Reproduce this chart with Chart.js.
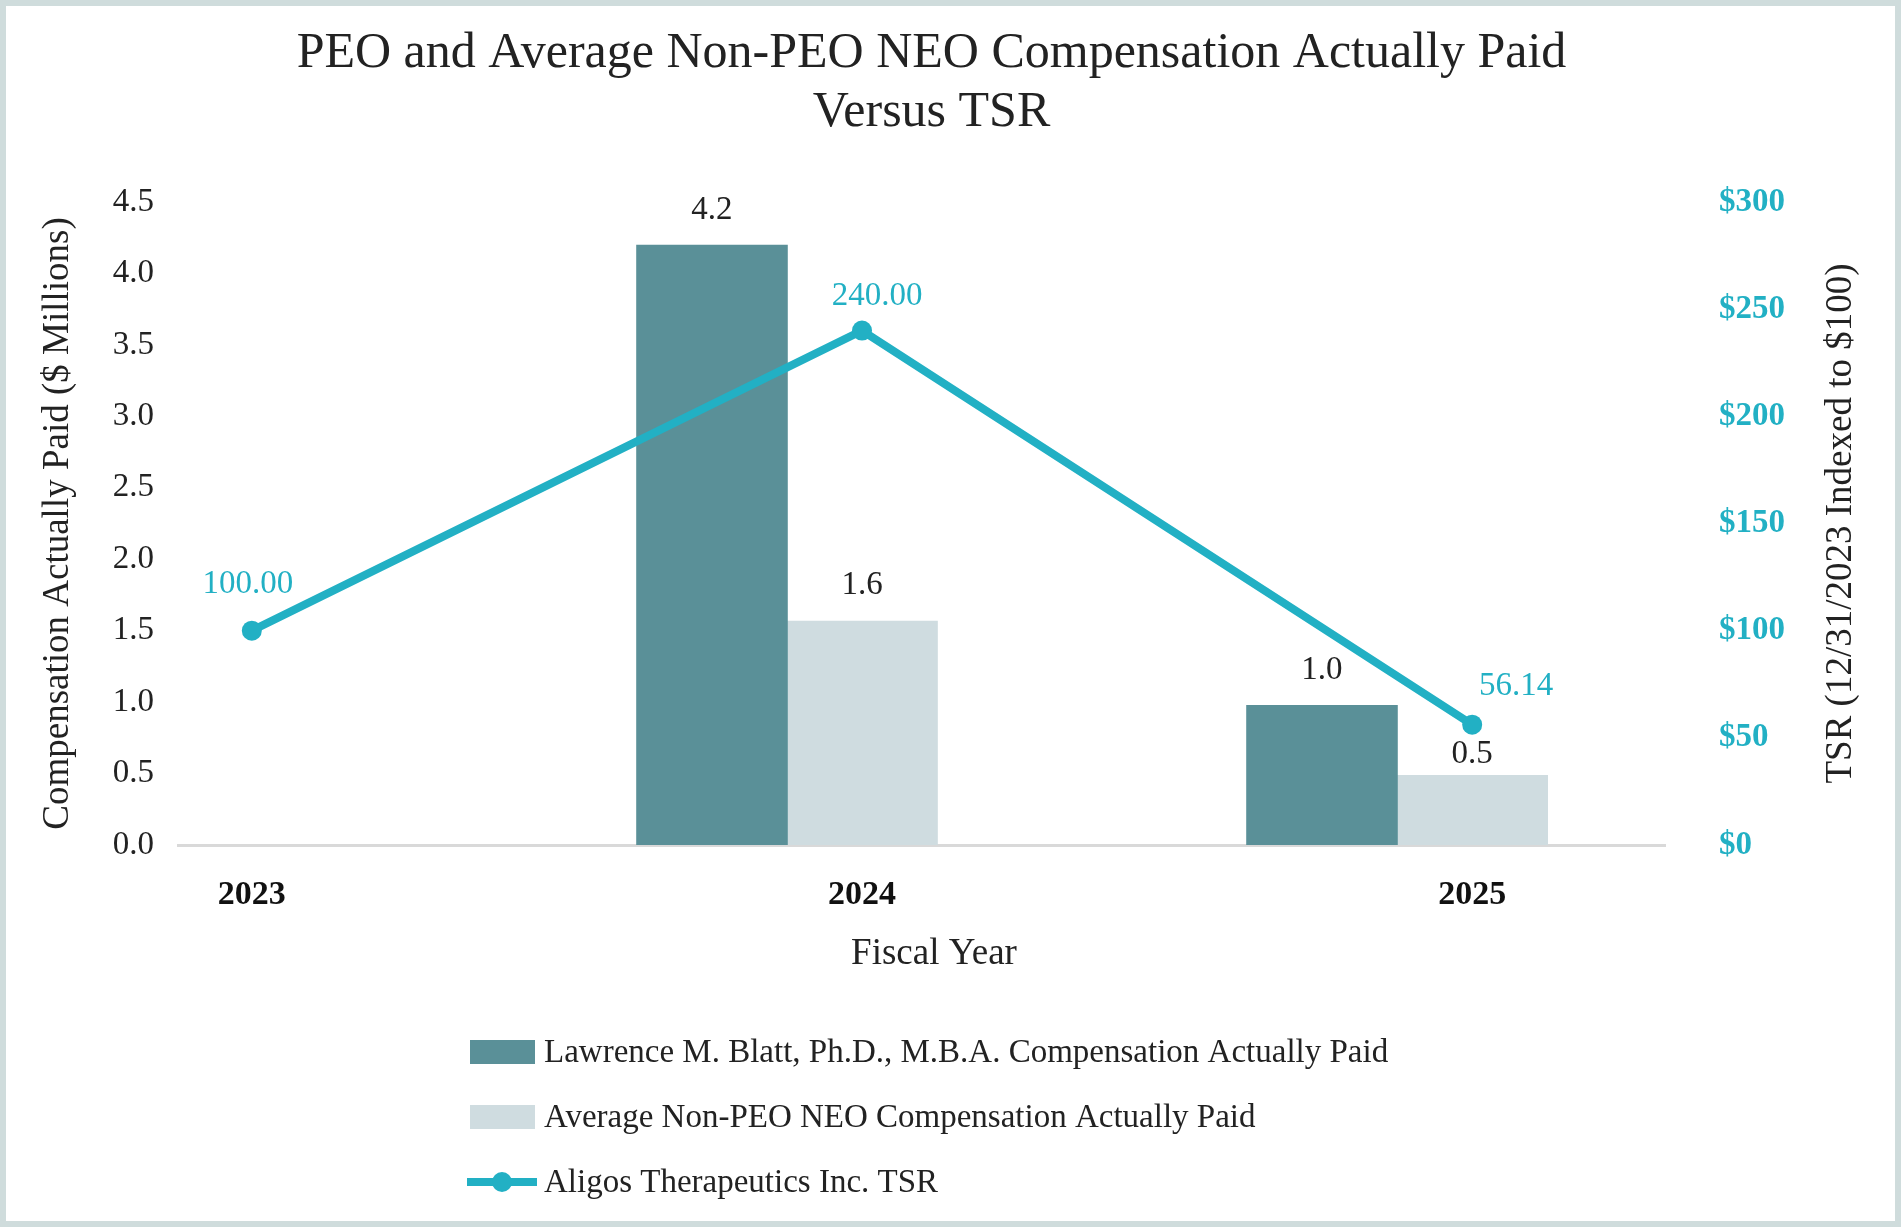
<!DOCTYPE html>
<html>
<head>
<meta charset="utf-8">
<script src="https://cdn.jsdelivr.net/npm/chart.js@4.4.1/dist/chart.umd.min.js"></script>
<style>
    html, body { margin: 0; padding: 0; background: #fff; }
    #wrap { position: relative; width: 1901px; height: 1227px; }
    #frame { position: absolute; inset: 0; border: 6px solid #cfdcdc; box-sizing: border-box; pointer-events: none; }
    canvas { position: absolute; left: 0; top: 0; }
</style>
</head>
<body>
<div id="wrap"><canvas id="chart" width="1901" height="1227"></canvas><div id="frame"></div></div>
<script>
const years = [2023, 2024, 2025];
const peoCap = [null, 4.2, 0.98];   // $ millions
const neoCap = [null, 1.57, 0.49];  // $ millions
const tsr = [100, 240, 56.14];
const seriesNames = [
    'Lawrence M. Blatt, Ph.D., M.B.A. Compensation Actually Paid',
    'Average Non-PEO NEO Compensation Actually Paid',
    'Aligos Therapeutics Inc. TSR'
];

const SERIF = "'Liberation Serif', 'Times New Roman', serif";
const TEAL = '#22b0c4';
const INK = '#222222';

// value labels above bars and points
const valueLabels = {
    id: 'valueLabels',
    afterDatasetsDraw(chart) {
        const ctx = chart.ctx;
        ctx.save();
        ctx.textAlign = 'center';
        ctx.textBaseline = 'middle';
        ctx.font = '33px ' + SERIF;
        chart.data.datasets.forEach((ds, di) => {
            const meta = chart.getDatasetMeta(di);
            const last = ds.data.length - 1;
            meta.data.forEach((el, i) => {
                const v = ds.data[i].y;
                if (v == null) return;
                if (ds.type === 'line') {
                    ctx.fillStyle = TEAL;
                    const dx = i === last ? 44 : (i === 0 ? -4 : 15);
                    const dy = i === last ? -38 : (i === 0 ? -46 : -34);
                    ctx.fillText(v.toFixed(2), el.x + dx, el.y + dy);
                } else {
                    ctx.fillStyle = INK;
                    // the small 2025 NEO label sits tighter to its bar
                    const dy = (di === 1 && i === last) ? -21 : -35;
                    ctx.fillText(v.toFixed(1), el.x, el.y + dy);
                }
            });
        });
        ctx.restore();
    }
};

// right axis title (reads bottom to top), x axis title and stacked legend
const extras = {
    id: 'extras',
    afterDraw(chart) {
        const ctx = chart.ctx;
        const area = chart.chartArea;
        ctx.save();
        ctx.font = '37px ' + SERIF;
        ctx.fillStyle = INK;
        ctx.textAlign = 'center';
        ctx.textBaseline = 'middle';
        ctx.fillText('Fiscal Year', 934, 954);
        ctx.translate(1841, (area.top + area.bottom) / 2);
        ctx.rotate(-Math.PI / 2);
        ctx.fillText('TSR (12/31/2023 Indexed to $100)', 0, 0);
        ctx.restore();

        ctx.save();
        ctx.font = '33px ' + SERIF;
        ctx.textBaseline = 'middle';
        ctx.textAlign = 'left';
        chart.data.datasets.forEach((ds, i) => {
            const y = 1052 + i * 65;
            if (ds.type === 'line') {
                ctx.strokeStyle = ds.borderColor;
                ctx.lineWidth = ds.borderWidth;
                ctx.beginPath();
                ctx.moveTo(467, y);
                ctx.lineTo(537, y);
                ctx.stroke();
                ctx.fillStyle = ds.borderColor;
                ctx.beginPath();
                ctx.arc(502, y, 10, 0, Math.PI * 2);
                ctx.fill();
            } else {
                ctx.fillStyle = ds.backgroundColor;
                ctx.fillRect(470, y - 12, 65, 24);
            }
            ctx.fillStyle = INK;
            ctx.fillText(ds.label, 544, y + 1);
        });
        ctx.restore();
    }
};

const toPoints = vals => vals.map((v, i) => ({ x: years[i], y: v }));

// bars are placed side by side by giving each series its own x scale
// (grouped: false), the PEO scale shifted one bar width to the left
new Chart(document.getElementById('chart'), {
    data: {
        datasets: [
            {
                type: 'bar', label: seriesNames[0], data: toPoints(peoCap),
                backgroundColor: '#5a9098', xAxisID: 'x', yAxisID: 'y', order: 1,
                grouped: false, categoryPercentage: 0.2485, barPercentage: 1
            },
            {
                type: 'bar', label: seriesNames[1], data: toPoints(neoCap),
                backgroundColor: '#cfdce0', xAxisID: 'x2', yAxisID: 'y', order: 1,
                grouped: false, categoryPercentage: 0.2485, barPercentage: 1
            },
            {
                type: 'line', label: seriesNames[2], data: toPoints(tsr),
                borderColor: TEAL, backgroundColor: TEAL, borderWidth: 8,
                pointRadius: 10, pointBackgroundColor: TEAL, pointBorderWidth: 0,
                xAxisID: 'x2', yAxisID: 'y2', order: 0, tension: 0
            }
        ]
    },
    options: {
        responsive: false,
        animation: false,
        layout: { padding: { left: 6, right: 44, top: 0, bottom: 247 } },
        plugins: {
            legend: { display: false },
            tooltip: { enabled: false },
            title: {
                display: true,
                text: ['PEO and Average Non-PEO NEO Compensation Actually Paid', 'Versus TSR'],
                color: INK,
                font: { family: SERIF, size: 50, weight: 'normal', lineHeight: 1.19 },
                padding: { top: 24, bottom: 59 }
            }
        },
        scales: {
            x: {
                type: 'linear', display: false, offset: false,
                grid: { offset: false },
                min: 2023.1246, max: 2025.5623,
                ticks: { stepSize: 1, includeBounds: false }
            },
            x2: {
                type: 'linear', position: 'bottom', offset: false,
                min: 2022.879, max: 2025.316,
                grid: { display: false, drawTicks: false, offset: false },
                border: { display: true, color: '#d9d9d9', width: 3 },
                ticks: {
                    stepSize: 1, includeBounds: false, padding: 30, color: '#111',
                    font: { family: SERIF, size: 34, weight: 'bold' },
                    callback: v => String(v)
                },
                afterFit: s => { s.height = 135; }
            },
            y: {
                position: 'left', min: 0, max: 4.5,
                grid: { display: false, drawTicks: false },
                border: { display: false },
                ticks: {
                    stepSize: 0.5, padding: 24, color: INK,
                    font: { family: SERIF, size: 33 },
                    callback: v => v.toFixed(1)
                },
                title: {
                    display: true, text: 'Compensation Actually Paid ($ Millions)', color: INK,
                    font: { family: SERIF, size: 37 },
                    padding: { top: 30, bottom: 0 }
                },
                afterFit: s => { s.width = 172; }
            },
            y2: {
                position: 'right', min: 0, max: 300,
                grid: { display: false, drawTicks: false },
                border: { display: false },
                ticks: {
                    stepSize: 50, padding: 54, color: TEAL,
                    font: { family: SERIF, size: 33, weight: 'bold' },
                    callback: v => '$' + v
                },
                afterFit: s => { s.width = 192; }
            }
        }
    },
    plugins: [valueLabels, extras]
});
</script>
</body>
</html>
